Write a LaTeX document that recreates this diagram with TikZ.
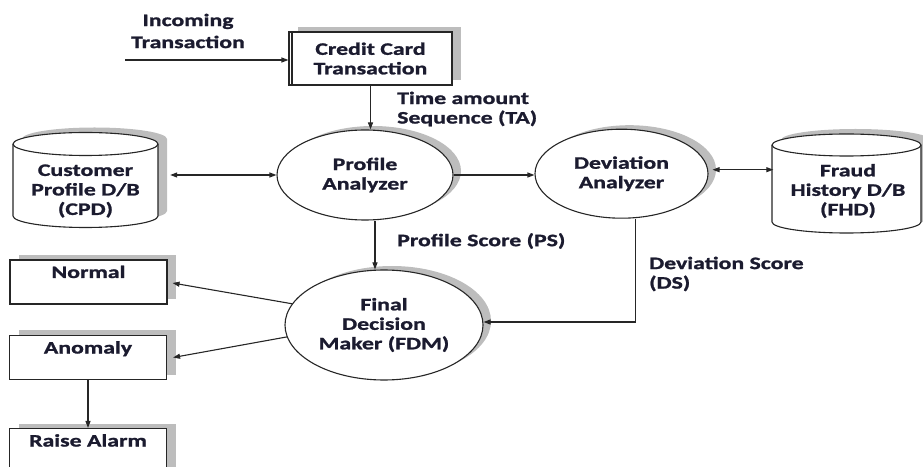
\documentclass[tikz,border=0pt]{standalone}
\usepackage{fontspec}
\newfontfamily\diafont{Carlito}[FakeStretch=1.36, BoldFeatures={FakeBold=1.3}]
\usetikzlibrary{arrows.meta,shadows,shapes.geometric}
\definecolor{ink}{HTML}{1B1B2F}
\definecolor{edge}{HTML}{262626}
\definecolor{shade}{HTML}{BDBDBD}

\begin{document}
\begin{tikzpicture}[x=1pt,y=1pt,
  every node/.style={font=\diafont\bfseries\fontsize{17.5}{19.5}\selectfont, text=ink},
  lw/.style={line width=1.1pt, draw=edge},
  arr/.style={lw, -{Triangle[length=7pt,width=5pt]}},
  dblarr/.style={lw, {Triangle[length=7pt,width=5pt]}-{Triangle[length=7pt,width=5pt]}},
  shadowed/.style={drop shadow={shadow xshift=9pt, shadow yshift=5pt, fill=shade, opacity=1}},
  ellshadow/.style={drop shadow={shadow xshift=8pt, shadow yshift=4pt, fill=shade, opacity=1}},
  outbox/.style={lw, fill=white, shadowed, minimum width=157pt, minimum height=44pt,
                 inner sep=0pt, text height=18pt, text depth=26pt, anchor=center},
  procell/.style={ellipse, lw, fill=white, ellshadow, inner sep=0pt, align=center},
  dbshape/.style={lw, fill=white, shadowed},
  dblabel/.style={align=center, inner sep=0pt},
  flowlabel/.style={align=left, anchor=west, inner sep=0pt}
]
\useasboundingbox (0,0) rectangle (923,466);
\clip (0,0) rectangle (923,466);

% input box
\node[lw, fill=white, shadowed, minimum width=163pt, minimum height=53pt, inner sep=0pt,
      align=center] (cct) at (370.5,407.5) {Credit Card\\Transaction};
\draw[lw] ([xshift=3.5pt]cct.north west) -- ([xshift=3.5pt]cct.south west);
\node[align=center, inner sep=0pt, font=\diafont\bfseries\fontsize{17.5}{22}\selectfont]
      (inc) at (188,435) {Incoming\\Transaction};
\coordinate (src) at (125,406);

% databases
\path[dbshape] (13,322) -- (13,250)
  arc[start angle=180,end angle=360,x radius=72.5pt,y radius=11.5pt] -- (158,322)
  arc[start angle=0,end angle=180,x radius=72.5pt,y radius=11.5pt] -- cycle;
\draw[lw] (13,322) arc[start angle=180,end angle=360,x radius=72.5pt,y radius=11.5pt];
\node[dblabel, minimum width=145pt] (cpd) at (85.5,275) {Customer\\Profile D/B\\(CPD)};

\path[dbshape] (772,321) -- (772,244)
  arc[start angle=180,end angle=360,x radius=74.5pt,y radius=11pt] -- (921,321)
  arc[start angle=0,end angle=180,x radius=74.5pt,y radius=11pt] -- cycle;
\draw[lw] (772,321) arc[start angle=180,end angle=360,x radius=74.5pt,y radius=11pt];
\node[dblabel, minimum width=149pt] (fhd) at (848,275) {Fraud\\History D/B\\(FHD)};

% processes
\node[procell, minimum width=176pt, minimum height=90pt] (pa) at (365,291) {Profile\\Analyzer};
\node[procell, minimum width=173pt, minimum height=89pt] (da) at (621.5,292.3) {Deviation\\Analyzer};
\node[procell, minimum width=198pt, minimum height=110pt] (fdm) at (384,141) {Final\\Decision\\Maker (FDM)};

% outcomes
\node[outbox] (normal) at (88.5,184) {Normal};
\node[outbox] (anomaly) at (88,108.5) {Anomaly};
\node[outbox] (alarm) at (88,15.5) {Raise Alarm};

% flow labels
\node[flowlabel] (ta) at (397,357) {Time amount\\Sequence (TA)};
\node[flowlabel] (ps) at (397,225) {Profile Score (PS)};
\node[flowlabel] (ds) at (649,192) {Deviation Score\\(DS)};

% connectors
\draw[arr] (src) -- (src -| cct.west);
\draw[arr] (cct.south) -- (cct.south |- pa.north);
\draw[dblarr, shorten <=12pt] (pa.west -| cpd.east) -- (pa.west);
\draw[arr] (pa.east) -- (pa.east -| da.west);
\draw[dblarr, shorten <=4pt] ([yshift=4pt]da.east) -- ([yshift=4pt]da.east -| fhd.west);
\draw[arr] ([xshift=10pt]pa.south) -- ([xshift=10pt]pa.south |- fdm.north);
\draw[arr] ([xshift=14pt]da.south) |- ([yshift=3pt]fdm.east);
\draw[arr] (fdm.167) -- ([xshift=5pt,yshift=-1pt]normal.east);
\draw[arr] (fdm.187) -- ([xshift=6pt]anomaly.east);
\draw[arr] (anomaly.south) -- (alarm.north);
\end{tikzpicture}
\end{document}
